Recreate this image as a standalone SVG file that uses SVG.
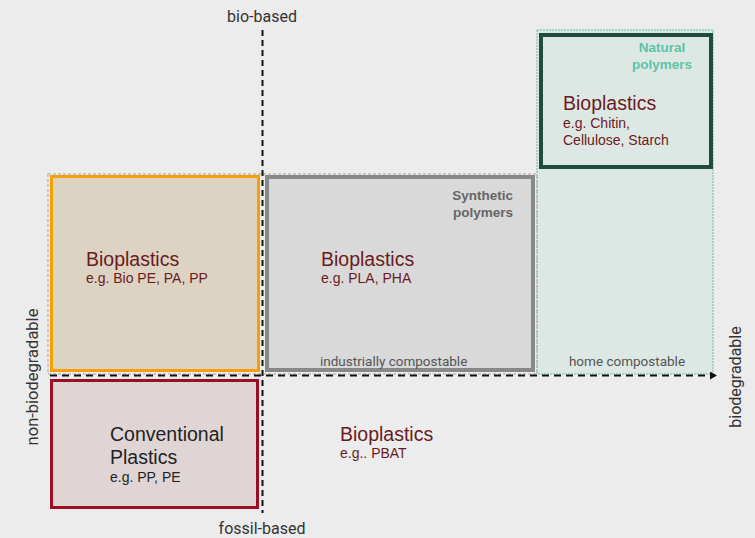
<svg xmlns="http://www.w3.org/2000/svg" width="755" height="538" viewBox="0 0 755 538">
<defs>
<style>
.t{font-family:"Liberation Sans",Arial,sans-serif;fill:#6b1a22}
.big{font-size:19.5px}
.sm{font-size:14px}
.ax{font-family:Roboto,"Liberation Sans",sans-serif;font-size:16px;fill:#333}
.lab{font-family:Roboto,"Liberation Sans",sans-serif;font-size:13.5px;fill:#555}
.hd{font-family:"Liberation Sans",Arial,sans-serif;font-size:13.5px;font-weight:bold}
.axis{stroke:#111;stroke-width:2;fill:none}
</style>
<marker id="arr" markerWidth="8" markerHeight="8" refX="5" refY="4" orient="auto" markerUnits="userSpaceOnUse">
<path d="M0,0 L7,4 L0,8 Z" fill="#111"/>
</marker>
</defs>
<rect width="755" height="538" fill="#ececec"/>
<g id="regions">
<rect x="537" y="30" width="176" height="344" fill="#dde8e4" stroke="#5cc3a8" stroke-width="1" stroke-dasharray="2 1"/>
<rect x="48" y="174" width="489" height="200" fill="none" stroke="#bbb" stroke-width="1.5" stroke-dasharray="3 2"/>
</g>
<g id="bio-nonbio">
<rect x="51.5" y="176.5" width="207" height="194" fill="#dcd3c3" stroke="#f5a000" stroke-width="3"/>
<text class="t big" x="86" y="266">Bioplastics</text>
<text class="t sm" x="86" y="283">e.g. Bio PE, PA, PP</text>
</g>
<g id="synthetic">
<rect x="267" y="177" width="266" height="193" fill="#d9d9d9" stroke="#888" stroke-width="4"/>
<text class="hd" x="513" y="200" text-anchor="end" fill="#666">Synthetic</text>
<text class="hd" x="513" y="217" text-anchor="end" fill="#666">polymers</text>
<text class="t big" x="321" y="266">Bioplastics</text>
<text class="t sm" x="321" y="283">e.g. PLA, PHA</text>
<text class="lab" x="320" y="366">industrially compostable</text>
</g>
<g id="natural">
<rect x="541" y="35" width="170" height="132" fill="#dde8e4" stroke="#1e4d3c" stroke-width="4"/>
<text class="hd" x="662" y="52" text-anchor="middle" fill="#5cc3a8">Natural</text>
<text class="hd" x="662" y="69" text-anchor="middle" fill="#5cc3a8">polymers</text>
<text class="t big" x="563" y="110">Bioplastics</text>
<text class="t sm" x="563" y="128">e.g. Chitin,</text>
<text class="t sm" x="563" y="145">Cellulose, Starch</text>
<text class="lab" x="627" y="366" text-anchor="middle">home compostable</text>
</g>
<g id="conventional">
<rect x="51.5" y="380.5" width="206" height="127" fill="#e0d5d5" stroke="#9b0f23" stroke-width="3"/>
<text class="t big" x="110" y="441" style="fill:#222">Conventional</text>
<text class="t big" x="110" y="464" style="fill:#222">Plastics</text>
<text class="t sm" x="110" y="482" style="fill:#222">e.g. PP, PE</text>
</g>
<g id="fossil-bio">
<text class="t big" x="340" y="441">Bioplastics</text>
<text class="t sm" x="340" y="458">e.g.. PBAT</text>
</g>
<g id="connectors">
<line class="axis" x1="262.5" y1="30" x2="262.5" y2="513" stroke-dasharray="6 4"/>
<line class="axis" x1="50" y1="375.5" x2="715" y2="375.5" stroke-dasharray="7 5" marker-end="url(#arr)"/>
</g>
<g id="axis-labels">
<text class="ax" x="262" y="22" text-anchor="middle">bio-based</text>
<text class="ax" x="262" y="534" text-anchor="middle">fossil-based</text>
<text class="ax" transform="translate(38,377) rotate(-90)" text-anchor="middle" style="font-size:16.5px">non-biodegradable</text>
<text class="ax" transform="translate(741,377) rotate(-90)" text-anchor="middle">biodegradable</text>
</g>
</svg>
